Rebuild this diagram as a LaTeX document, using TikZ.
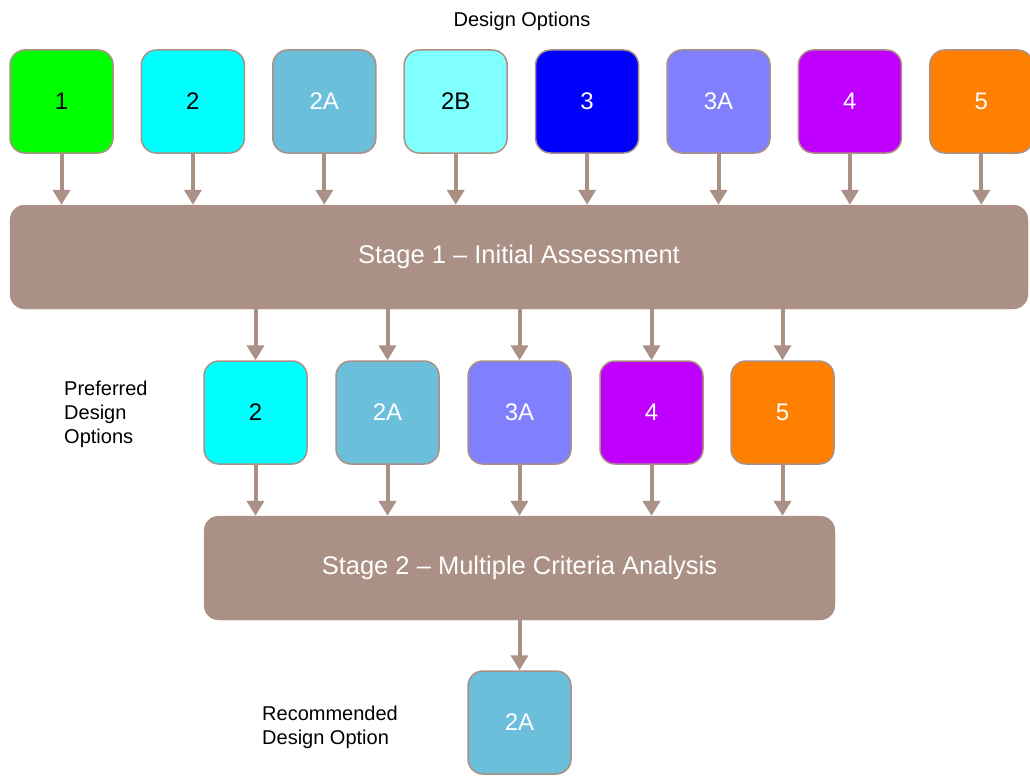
\documentclass[tikz,border=0pt]{standalone}
\usepackage{fontspec}
\setmainfont{Liberation Sans}
\usetikzlibrary{arrows.meta}

\definecolor{stagebrown}{HTML}{AB9085}
\definecolor{optgreen}{HTML}{00FF00}
\definecolor{optcyan}{HTML}{00FFFF}
\definecolor{optsky}{HTML}{6CBFDB}
\definecolor{optpale}{HTML}{80FFFF}
\definecolor{optblue}{HTML}{0000FF}
\definecolor{optlilac}{HTML}{8080FF}
\definecolor{optpurple}{HTML}{C000FF}
\definecolor{optorange}{HTML}{FF8000}

\tikzset{
  option/.style = {draw=stagebrown, line width=1.5pt, rounded corners=15pt,
    minimum size=103pt, inner sep=0pt, font=\fontsize{24}{28}\selectfont},
  stage/.style = {draw=stagebrown, fill=stagebrown, rounded corners=15pt,
    minimum height=104pt, inner sep=0pt, text=white, font=\fontsize{25.5}{30}\selectfont},
  caption/.style = {font=\fontsize{20}{24}\selectfont, align=left, inner sep=0pt},
  flow/.style = {draw=stagebrown, line width=4pt,
    -{Triangle[width=17pt,length=15pt]}},
}

\begin{document}
\begin{tikzpicture}[x=1pt, y=-1pt]
    \useasboundingbox (0,0) rectangle (1030,776);

    \node[caption] (title) at (522, 21) {Design Options};

    \node[option, fill=optgreen] (o1) at (61.5, 101.5) {1};
    \node[option, fill=optcyan] (o2) at (192.9, 101.5) {2};
    \node[option, fill=optsky, text=white] (o2a) at (324.3, 101.5) {2A};
    \node[option, fill=optpale] (o2b) at (455.7, 101.5) {2B};
    \node[option, fill=optblue, text=white] (o3) at (587.1, 101.5) {3};
    \node[option, fill=optlilac, text=white] (o3a) at (718.5, 101.5) {3A};
    \node[option, fill=optpurple, text=white] (o4) at (849.9, 101.5) {4};
    \node[option, fill=optorange, text=white] (o5) at (981.3, 101.5) {5};

    \node[stage, minimum width=1018pt] (s1) at (519, 257) {Stage 1 -- Initial Assessment};

    \node[caption, anchor=west] (pref) at (64, 414) {Preferred\\Design\\Options};

    \node[option, fill=optcyan] (p2) at (255.5, 412.5) {2};
    \node[option, fill=optsky, text=white] (p2a) at (387.5, 412.5) {2A};
    \node[option, fill=optlilac, text=white] (p3a) at (519.5, 412.5) {3A};
    \node[option, fill=optpurple, text=white] (p4) at (651.5, 412.5) {4};
    \node[option, fill=optorange, text=white] (p5) at (782.5, 412.5) {5};

    \node[stage, minimum width=631pt] (s2) at (519.5, 568) {Stage 2 -- Multiple Criteria Analysis};

    \node[caption, anchor=west] (rec) at (262, 727) {Recommended\\Design Option};
    \node[option, fill=optsky, text=white] (r2a) at (519.5, 722.5) {2A};

    \draw[flow] (o1) -- (o1 |- s1.north);
    \draw[flow] (o2) -- (o2 |- s1.north);
    \draw[flow] (o2a) -- (o2a |- s1.north);
    \draw[flow] (o2b) -- (o2b |- s1.north);
    \draw[flow] (o3) -- (o3 |- s1.north);
    \draw[flow] (o3a) -- (o3a |- s1.north);
    \draw[flow] (o4) -- (o4 |- s1.north);
    \draw[flow] (o5) -- (o5 |- s1.north);

    \draw[flow] (p2 |- s1.south) -- (p2);
    \draw[flow] (p2a |- s1.south) -- (p2a);
    \draw[flow] (p3a |- s1.south) -- (p3a);
    \draw[flow] (p4 |- s1.south) -- (p4);
    \draw[flow] (p5 |- s1.south) -- (p5);

    \draw[flow] (p2) -- (p2 |- s2.north);
    \draw[flow] (p2a) -- (p2a |- s2.north);
    \draw[flow] (p3a) -- (p3a |- s2.north);
    \draw[flow] (p4) -- (p4 |- s2.north);
    \draw[flow] (p5) -- (p5 |- s2.north);

    \draw[flow] (s2.south -| r2a) -- (r2a);
\end{tikzpicture}
\end{document}
